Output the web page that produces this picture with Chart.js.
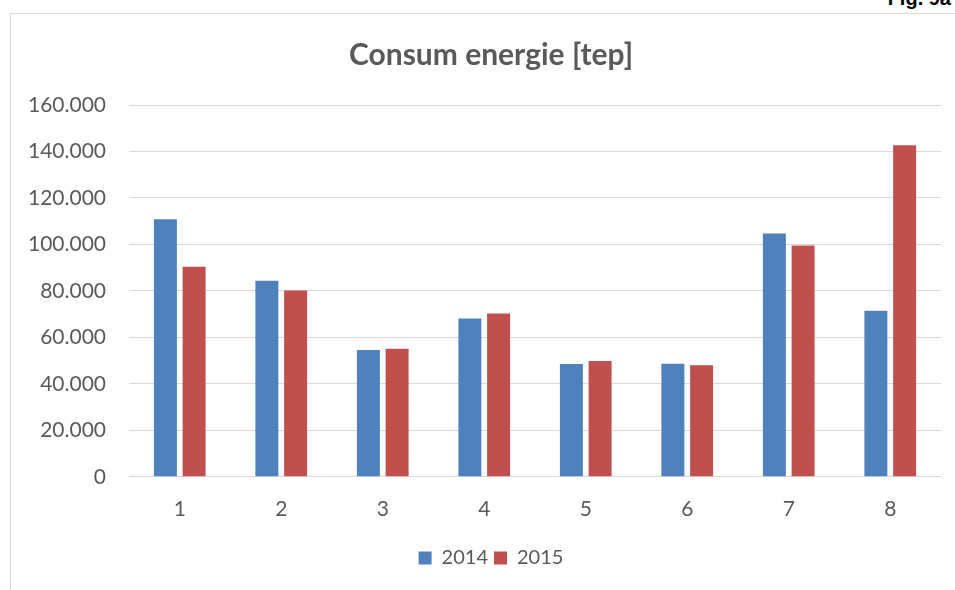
<!DOCTYPE html>
<html>
<head>
<meta charset="utf-8">
<script src="https://cdn.jsdelivr.net/npm/chart.js@4/dist/chart.umd.min.js"></script>
<style>
    html, body { margin: 0; padding: 0; background: #fff; overflow: hidden; }
    body { width: 955px; height: 590px; position: relative; }
    #frame {
        position: absolute; left: 10px; top: 13px; width: 970px; height: 600px;
        border: 1px solid #D9D9D9; box-sizing: border-box;
    }
    #wrap { position: absolute; left: 11px; top: 14px; width: 960px; height: 576px; }
    #fig {
        position: absolute; right: 4px; top: -13px;
        font: bold 20px "Liberation Sans", Arial, sans-serif; color: #000;
    }
</style>
</head>
<body>
<div id="frame"></div>
<div id="fig">Fig. 9a</div>
<div id="wrap"><canvas id="chart" width="960" height="576"></canvas></div>
<script>
const categories = ['1', '2', '3', '4', '5', '6', '7', '8'];
const values2014 = [110800, 84400, 54600, 68100, 48500, 48700, 104700, 71500];
const values2015 = [90400, 80200, 55100, 70300, 49800, 48000, 99500, 142700];
const seriesNames = ['2014', '2015'];
const yTicks = { min: 0, max: 160000, step: 20000 };

function formatRo(v) {
    return String(v).replace(/\B(?=(\d{3})+(?!\d))/g, '.');
}

const textColor = '#595959';
const font = 'Lato';

new Chart(document.getElementById('chart').getContext('2d'), {
    type: 'bar',
    data: {
        labels: categories,
        datasets: [
            { label: seriesNames[0], data: values2014, backgroundColor: '#4F81BD' },
            { label: seriesNames[1], data: values2015, backgroundColor: '#C0504D' }
        ]
    },
    options: {
        responsive: false,
        animation: false,
        categoryPercentage: 0.566,
        barPercentage: 0.8,
        layout: { padding: { left: 0, right: 0, top: 0, bottom: 12 } },
        plugins: {
            title: {
                display: true,
                text: 'Consum energie [tep]',
                color: textColor,
                font: { family: font, size: 30, weight: 'bold' },
                padding: { top: 23, bottom: 32 }
            },
            legend: {
                position: 'bottom',
                labels: {
                    color: textColor,
                    font: { family: font, size: 20 },
                    boxWidth: 13,
                    boxHeight: 13,
                    padding: 6
                }
            },
            tooltip: { enabled: false }
        },
        scales: {
            x: {
                grid: { display: false, drawTicks: false },
                border: { display: false },
                ticks: { color: textColor, font: { family: font, size: 21 }, padding: 20 }
            },
            y: {
                min: yTicks.min,
                max: yTicks.max,
                grid: { color: '#D9D9D9', lineWidth: 1, drawTicks: false },
                border: { display: false },
                ticks: {
                    stepSize: yTicks.step,
                    color: textColor,
                    font: { family: font, size: 21 },
                    padding: 23,
                    callback: v => formatRo(v)
                },
                afterFit: scale => { scale.width = 118; }
            },
            // empty right-hand gap, keeps title and legend centred on the whole frame
            gap: {
                position: 'right',
                grid: { display: false, drawTicks: false },
                border: { display: false },
                ticks: { display: false },
                afterFit: scale => { scale.width = 30; }
            }
        }
    }
});
</script>
</body>
</html>
